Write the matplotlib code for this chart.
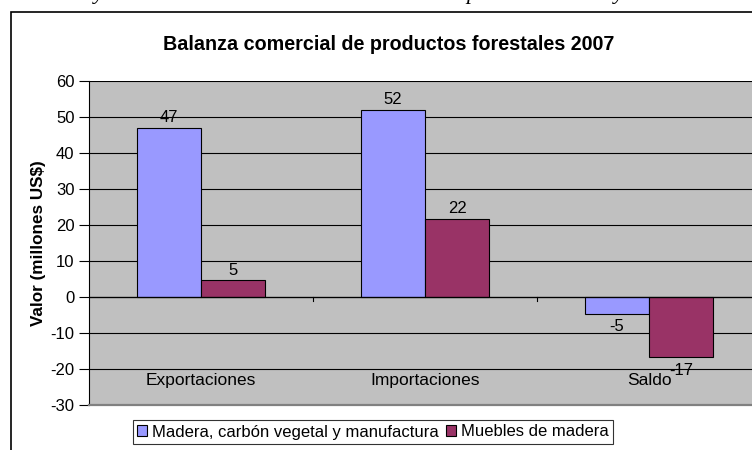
import numpy as np
import matplotlib.pyplot as plt
from matplotlib.patches import Rectangle

plt.rcParams['font.family'] = ['Liberation Sans', 'DejaVu Sans']
plt.rcParams['axes.unicode_minus'] = False

# datos
categorias = ['Exportaciones', 'Importaciones', 'Saldo']
madera = [47, 52, -4.7]        # Madera, carbón vegetal y manufactura
muebles = [4.6, 21.7, -16.7]   # Muebles de madera
series_nombres = ['Madera, carbón vegetal y manufactura', 'Muebles de madera']
yticks = np.arange(-30, 61, 10)

W, H = 752, 450
fig = plt.figure(figsize=(W / 100, H / 100), dpi=100)

# marco del grafico (cortado a la derecha y abajo)
fig.patches.append(Rectangle((11 / W, -0.1), 1.0, 1 - 12 / H + 0.1, transform=fig.transFigure,
                             fill=False, edgecolor='black', linewidth=1.2))

# restos del texto del documento arriba
for xs, ch in [(94, 'y'), (466, 'p'), (614, 'y')]:
    fig.text(xs / W, 1 + 1 / H, ch, family='Liberation Serif', style='italic', fontsize=16,
             va='baseline', ha='left')

ax = fig.add_axes([89 / W, 1 - 405 / H, (761 - 89) / W, (405 - 81) / H])
ax.set_facecolor('#C0C0C0')

x = np.arange(len(categorias))
w = 0.286
b1 = ax.bar(x - w / 2, madera, w, color='#9999FF', edgecolor='black', linewidth=0.8,
            label=series_nombres[0], zorder=3)
b2 = ax.bar(x + w / 2, muebles, w, color='#993366', edgecolor='black', linewidth=0.8,
            label=series_nombres[1], zorder=3)

for bars, vals in [(b1, madera), (b2, muebles)]:
    for r, v in zip(bars, vals):
        cx = r.get_x() + r.get_width() / 2
        if v >= 0:
            ax.annotate('%.0f' % v, (cx, v), xytext=(0, 2), textcoords='offset points',
                        ha='center', va='bottom', fontsize=12, zorder=5)
        else:
            ax.annotate('%.0f' % v, (cx, v), xytext=(0, -4), textcoords='offset points',
                        ha='center', va='top', fontsize=12, zorder=5)

ax.set_xlim(-0.5, 2.5)
ax.set_ylim(-30, 60)
ax.set_yticks(yticks)
ax.tick_params(axis='y', length=7, width=0.8, pad=3.5, labelsize=12, color='black')
ax.set_xticks([])
ax.grid(axis='y', color='black', linewidth=0.8, zorder=1)

# eje de categorias en y=0 con marcas
ax.axhline(0, color='black', linewidth=0.9, zorder=4)
for xb in [0.5, 1.5]:
    ax.plot([xb, xb], [0, -1.1], color='black', linewidth=0.8, zorder=4)
for xi, c in zip(x, categorias):
    ax.text(xi, -23.3, c, ha='center', va='center', fontsize=12.5, zorder=6)

for s in ['top', 'right']:
    ax.spines[s].set_visible(False)
ax.spines['bottom'].set_color('#808080')
ax.spines['bottom'].set_linewidth(1.6)
ax.spines['left'].set_color('black')
ax.spines['left'].set_linewidth(0.8)

ax.set_ylabel('Valor (millones US$)', fontsize=12.3, fontweight='bold', labelpad=3)

fig.text(389 / W, 1 - 45 / H, 'Balanza comercial de productos forestales 2007',
         ha='center', va='center', fontsize=14.2, fontweight='bold')

leg = fig.legend(handles=[b1, b2], loc='center', bbox_to_anchor=(373 / W, 1 - 432 / H),
                 ncol=2, fontsize=12, frameon=True, fancybox=False, edgecolor='black',
                 handlelength=0.6, handleheight=0.6, handletextpad=0.3, columnspacing=0.4,
                 borderpad=0.25, borderaxespad=0)
leg.get_frame().set_linewidth(0.8)

fig.savefig('out.png', dpi=100)
